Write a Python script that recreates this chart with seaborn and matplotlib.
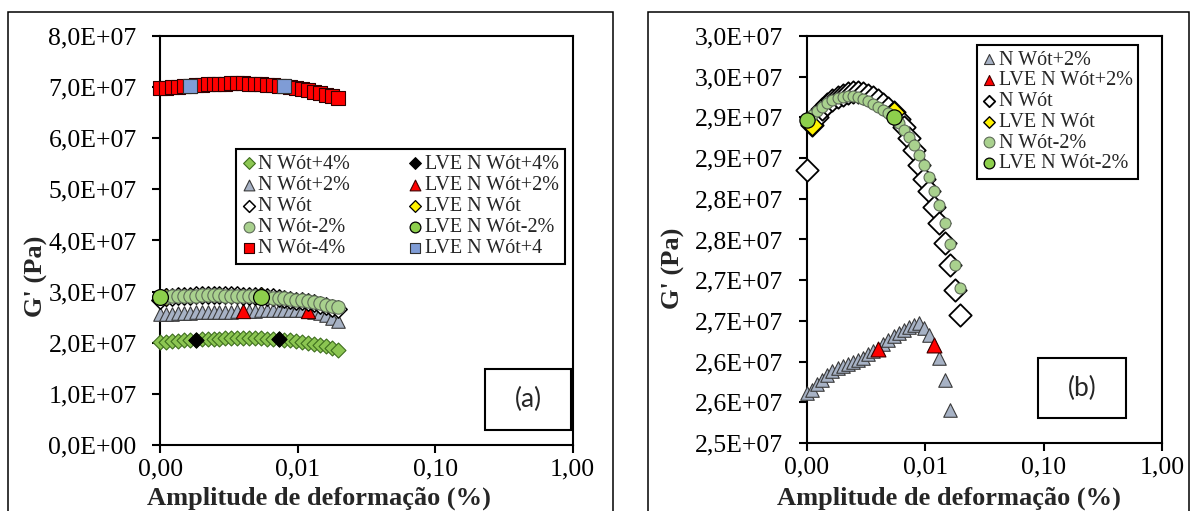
import matplotlib
matplotlib.use("Agg")
import numpy as np
import matplotlib.pyplot as plt
import seaborn as sns
from matplotlib.ticker import FixedLocator, FuncFormatter, MultipleLocator, NullLocator
from matplotlib.patches import Rectangle
from matplotlib.transforms import Bbox, TransformedBbox
from matplotlib.font_manager import FontProperties
from decimal import Decimal, ROUND_HALF_UP

# ---------------------------------------------------------------------------
# Strain sweep data: amplitude (%) and storage modulus G' (in 10^7 Pa)
# ---------------------------------------------------------------------------
strain = [0.001000, 0.001104, 0.001219, 0.001346, 0.001486, 0.001641, 0.001811,
          0.002000, 0.002208, 0.002438, 0.002692, 0.002972, 0.003281, 0.003622,
          0.003999, 0.004416, 0.004875, 0.005383, 0.005943, 0.006561, 0.007244,
          0.007998, 0.008831, 0.009750, 0.010765, 0.011885, 0.013122, 0.014488,
          0.015996, 0.017660, 0.019498]

g_wot_p4 = [2.01, 2.02, 2.03, 2.04, 2.05, 2.06, 2.06, 2.07, 2.07, 2.08, 2.08,
            2.09, 2.09, 2.09, 2.09, 2.09, 2.09, 2.09, 2.08, 2.08, 2.07, 2.06,
            2.05, 2.03, 2.02, 2.00, 1.98, 1.95, 1.93, 1.90, 1.86]
g_wot_p2 = [2.561, 2.565, 2.572, 2.577, 2.584, 2.588, 2.592, 2.595, 2.597, 2.600,
            2.602, 2.605, 2.609, 2.613, 2.616, 2.622, 2.627, 2.631, 2.635, 2.639,
            2.642, 2.645, 2.648, 2.641, 2.633, 2.620, 2.604, 2.578, 2.540, 2.490,
            2.430]
g_wot = [2.835, 2.891, 2.900, 2.910, 2.916, 2.921, 2.925, 2.928, 2.930, 2.931,
         2.931, 2.930, 2.928, 2.925, 2.921, 2.917, 2.912, 2.907, 2.898, 2.888,
         2.875, 2.860, 2.842, 2.824, 2.809, 2.790, 2.770, 2.746, 2.719, 2.688,
         2.657]
g_wot_m2 = [2.897, 2.903, 2.908, 2.913, 2.918, 2.921, 2.924, 2.925, 2.926, 2.926,
            2.925, 2.923, 2.920, 2.917, 2.913, 2.909, 2.905, 2.900, 2.893, 2.885,
            2.876, 2.866, 2.854, 2.841, 2.827, 2.810, 2.792, 2.770, 2.745, 2.719,
            2.690]
g_wot_m4 = [6.98, 6.99, 7.00, 7.01, 7.02, 7.03, 7.04, 7.05, 7.06, 7.06, 7.07,
            7.07, 7.08, 7.08, 7.08, 7.07, 7.07, 7.06, 7.05, 7.04, 7.03, 7.02,
            7.00, 6.98, 6.96, 6.94, 6.91, 6.88, 6.85, 6.82, 6.78]

# limits of the linear viscoelastic (LVE) region
lve_p4_x, lve_p4_y = [0.001811, 0.007244], [2.06, 2.07]
lve_p2_x, lve_p2_y = [0.003999, 0.011885], [2.616, 2.620]
lve_0_x, lve_0_y = [0.001104, 0.005383], [2.891, 2.907]
lve_m2_x, lve_m2_y = [0.001000, 0.005383], [2.897, 2.900]
lve_m4_x, lve_m4_y = [0.001641, 0.007998], [7.03, 7.02]

UNIT = 1e7  # G' arrays are stored in 10^7 Pa

x_ticks = [0.001, 0.01, 0.1, 1.0]
x_tick_labels = ["0,00", "0,01", "0,10", "1,00"]

# ---------------------------------------------------------------------------
sns.set_style("ticks")
plt.rcParams["font.family"] = ["Liberation Serif", "DejaVu Serif"]
plt.rcParams["axes.linewidth"] = 1.5

W, H = 1190, 511
fig = plt.figure(figsize=(W / 100, H / 100), dpi=100)


def px_rect(l, t, r, b):
    return [l / W, 1 - b / H, (r - l) / W, (b - t) / H]


ax1 = fig.add_axes(px_rect(160.3, 36, 572.7, 445))
ax2 = fig.add_axes(px_rect(807, 36, 1162.3, 443))

# outer panel frames
for l, r in [(8, 613), (648, 1189)]:
    fig.add_artist(Rectangle((l / W, -0.2), (r - l) / W, 1 - 12 / H + 0.2,
                             transform=fig.transFigure, fill=False,
                             lw=1.1, ec="black"))


def draw(ax, x, y, marker, s, fc, ec, lw, label):
    sns.scatterplot(x=x, y=np.asarray(y) * UNIT, marker=marker, s=s, color=fc,
                    edgecolor=ec, linewidth=lw, ax=ax, legend=False, zorder=3)
    coll = ax.collections[-1]
    coll.set_label(label)
    return coll


GREEN, GREEN_EC = "#8CC652", "#3E6E1E"
GREY_T, GREY_EC = "#A7B2C5", "#3A3A3A"
LGREEN, LGREEN_EC = "#A9D18E", "#5E6B58"
LVE_GREEN = "#8DCF4C"
RED = "#FF0000"
YELLOW = "#FFF200"
BLUE = "#7F9CD6"

# ---- panel (a) ----
h1 = []
h1.append(draw(ax1, strain, g_wot_p4, "D", 58, GREEN, GREEN_EC, 0.8, "N Wót+4%"))
lve_a1 = draw(ax1, lve_p4_x, lve_p4_y, "D", 60, "black", "black", 0.8, "LVE N Wót+4%")
h1.append(draw(ax1, strain, g_wot_p2, "^", 95, GREY_T, GREY_EC, 0.8, "N Wót+2%"))
lve_a2 = draw(ax1, lve_p2_x, lve_p2_y, "^", 105, RED, "#400000", 0.8, "LVE N Wót+2%")
h1.append(draw(ax1, strain, g_wot, "D", 78, "white", "black", 1.1, "N Wót"))
lve_a3 = draw(ax1, lve_0_x, lve_0_y, "D", 82, YELLOW, "black", 0.9, "LVE N Wót")
h1.append(draw(ax1, strain, g_wot_m2, "o", 92, LGREEN, LGREEN_EC, 0.8, "N Wót-2%"))
lve_a4 = draw(ax1, lve_m2_x, lve_m2_y, "o", 130, LVE_GREEN, "black", 0.9, "LVE N Wót-2%")
h1.append(draw(ax1, strain, g_wot_m4, "s", 98, RED, "#300000", 0.8, "N Wót-4%"))
lve_a5 = draw(ax1, lve_m4_x, lve_m4_y, "s", 110, BLUE, "#303030", 0.8, "LVE N Wót+4")
h1 += [lve_a1, lve_a2, lve_a3, lve_a4, lve_a5]

# ---- panel (b) ----
h2 = []
h2.append(draw(ax2, strain, g_wot_p2, "^", 95, GREY_T, GREY_EC, 0.8, "N Wót+2%"))
h2.append(draw(ax2, lve_p2_x, lve_p2_y, "^", 115, RED, "#400000", 0.8, "LVE N Wót+2%"))
h2.append(draw(ax2, strain, g_wot, "D", 130, "white", "black", 1.3, "N Wót"))
h2.append(draw(ax2, lve_0_x, lve_0_y, "D", 110, YELLOW, "black", 1.0, "LVE N Wót"))
h2.append(draw(ax2, strain, g_wot_m2, "o", 62, LGREEN, LGREEN_EC, 0.8, "N Wót-2%"))
h2.append(draw(ax2, lve_m2_x, lve_m2_y, "o", 120, LVE_GREEN, "black", 0.9, "LVE N Wót-2%"))


def sci_comma(v, pos):
    iv = int(round(v))
    if iv == 0:
        return "0,0E+00"
    exp = len(str(abs(iv))) - 1
    m = (Decimal(iv) / (Decimal(10) ** exp)).quantize(Decimal("0.1"),
                                                     rounding=ROUND_HALF_UP)
    return f"{m}E+{exp:02d}".replace(".", ",")


def log_label(v, pos):
    i = int(np.argmin([abs(np.log10(t) - np.log10(v)) for t in x_ticks]))
    return x_tick_labels[i]


for ax, (ylo, yhi, step) in [(ax1, (0, 8e7, 1e7)), (ax2, (2.5e7, 3.0e7, 5e5))]:
    ax.set_xscale("log")
    ax.set_xlim(0.001, 1.0)
    ax.set_ylim(ylo, yhi)
    ax.xaxis.set_major_locator(FixedLocator(x_ticks))
    ax.xaxis.set_major_formatter(FuncFormatter(log_label))
    ax.xaxis.set_minor_locator(NullLocator())
    ax.yaxis.set_major_locator(MultipleLocator(step))
    ax.yaxis.set_major_formatter(FuncFormatter(sci_comma))
    ax.yaxis.set_minor_locator(NullLocator())
    ax.tick_params(axis="both", direction="out", length=6, width=1.5,
                   labelsize=18.5, colors="black")
    ax.tick_params(axis="y", pad=11)
    ax.tick_params(axis="x", pad=4)
    for sp in ax.spines.values():
        sp.set_visible(True)
        sp.set_color("black")
        sp.set_linewidth(1.5)
    ax.set_xlabel("")
    ax.set_ylabel("")
    ax.set_facecolor("white")
    clip = TransformedBbox(Bbox([[-0.06, 0.0], [1.06, 1.0]]), ax.transAxes)
    for coll in ax.collections:
        coll.set_clip_box(clip)

leg_font = FontProperties(family="Liberation Serif", size=14.5)

leg1 = ax1.legend(handles=h1, labels=[c.get_label() for c in h1], ncol=2,
                  loc="upper left", bbox_to_anchor=((236 - 160.3) / 412.4, (445 - 149) / 409),
                  borderaxespad=0, fancybox=False, edgecolor="black", framealpha=1,
                  prop=leg_font, handlelength=0.7, handletextpad=0.12,
                  borderpad=0.28, labelspacing=0.1, columnspacing=2.9,
                  scatterpoints=1)
leg1.get_frame().set_linewidth(1.5)
for hd, s in zip(leg1.legend_handles, [36, 60, 36, 60, 60, 36, 60, 36, 60, 60]):
    hd.set_sizes([s])

leg2 = ax2.legend(handles=h2, labels=[c.get_label() for c in h2], ncol=1,
                  loc="upper left", bbox_to_anchor=((976.7 - 807) / 355.3, (443 - 45) / 407),
                  borderaxespad=0, fancybox=False, edgecolor="black", framealpha=1,
                  prop=leg_font, handlelength=0.7, handletextpad=0.12,
                  borderpad=0.28, labelspacing=0.08, scatterpoints=1)
leg2.get_frame().set_linewidth(1.5)
for hd, s in zip(leg2.legend_handles, [52, 52, 34, 34, 60, 60]):
    hd.set_sizes([s])

# panel tags
for ax, (l, t, r, b), tag in [(ax1, (485, 369, 571, 430), "(a)"),
                              (ax2, (1038, 358, 1125.6, 418), "(b)")]:
    if ax is ax1:
        L, T, R, B = 160.3, 36, 572.7, 445
    else:
        L, T, R, B = 807, 36, 1162.3, 443
    x0 = (l - L) / (R - L)
    y0 = (B - b) / (B - T)
    w = (r - l) / (R - L)
    hgt = (b - t) / (B - T)
    ax.add_patch(Rectangle((x0, y0), w, hgt, transform=ax.transAxes,
                           fill=True, fc="white", ec="black", lw=1.5, zorder=4))
    ax.text(x0 + w / 2, y0 + hgt / 2, tag, transform=ax.transAxes,
            ha="center", va="center", fontsize=19, family="Lato", zorder=5)

# axis titles
label_kw = dict(fontsize=19, fontweight="bold", family="Liberation Serif")
fig.text(36 / W, 1 - 276 / H, "G' (Pa)", rotation=90, ha="center", va="center", **label_kw)
fig.text(673 / W, 1 - 268 / H, "G' (Pa)", rotation=90, ha="center", va="center", **label_kw)
fig.text(318.8 / W, 1 - 487 / H, "Amplitude de deformação (%)", ha="center", va="top", **label_kw)
fig.text(948.7 / W, 1 - 487 / H, "Amplitude de deformação (%)", ha="center", va="top", **label_kw)

fig.savefig("out.png", dpi=100, facecolor="white")
